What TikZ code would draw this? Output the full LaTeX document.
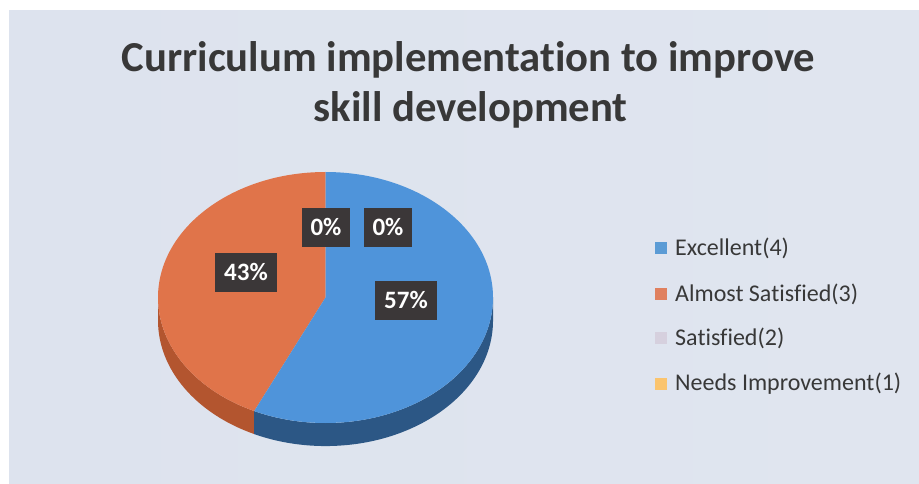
\documentclass[tikz,border=0pt]{standalone}
\usepackage{fontspec}
\setmainfont[Ligatures={NoCommon}]{Carlito}
\definecolor{panelL}{HTML}{DDE3EE}
\definecolor{panelM}{HTML}{F4F5F9}
\definecolor{panelR}{HTML}{E0E5EF}
\definecolor{blueTop}{HTML}{4F94DA}
\definecolor{blueSide}{HTML}{2C5785}
\definecolor{orTop}{HTML}{E0744A}
\definecolor{orSide}{HTML}{B3552F}
\definecolor{lblFill}{HTML}{3B3738}
\definecolor{txtDark}{HTML}{383838}
\definecolor{legBlue}{HTML}{5B9BD5}
\definecolor{legOr}{HTML}{E0805F}
\definecolor{legGray}{HTML}{D6D0DE}
\definecolor{legYel}{HTML}{FBC46E}
\tikzset{
  pct/.style={fill=lblFill, text=white, font=\fontsize{25}{30}\selectfont\bfseries, minimum height=39pt, inner xsep=9pt, inner ysep=0pt},
  legsq/.style={minimum size=12pt, inner sep=0pt},
  legtxt/.style={anchor=west, text=txtDark, font=\fontsize{24}{28}\selectfont, inner sep=0pt},
  ttl/.style={anchor=base, text=txtDark, font=\fontsize{42.7}{50}\selectfont\bfseries, inner sep=0pt}
}
\begin{document}
\begin{tikzpicture}[x=1pt,y=1pt]
\useasboundingbox (0,0) rectangle (919,483);
\fill[white] (0,0) rectangle (919,483);
\shade[left color=panelL, middle color=panelM, right color=panelR] (9,0) rectangle (919,472);
% title
\node[ttl] (t1) at (468.5,411) {Curriculum implementation to improve};
\node[ttl] (t2) at (470.5,361) {skill development};
% pie sides
\fill[orSide] (158,185.5) arc[start angle=180,end angle=244.8,x radius=167.5pt,y radius=125.5pt]
  -- ++(0,-23) arc[start angle=244.8,end angle=180,x radius=167.5pt,y radius=125.5pt] -- cycle;
\fill[blueSide] (254.2,71.9) arc[start angle=244.8,end angle=360,x radius=167.5pt,y radius=125.5pt]
  -- ++(0,-23) arc[start angle=360,end angle=244.8,x radius=167.5pt,y radius=125.5pt] -- cycle;
% pie top
\fill[orTop] (325.5,185.5) -- (325.5,311) arc[start angle=90,end angle=244.8,x radius=167.5pt,y radius=125.5pt] -- cycle;
\fill[blueTop] (325.5,185.5) -- (325.5,311) arc[start angle=90,end angle=-115.2,x radius=167.5pt,y radius=125.5pt] -- cycle;
% labels
\node[pct] (p1) at (326,256) {0\%};
\node[pct] (p2) at (388,256) {0\%};
\node[pct] (p3) at (246,211) {43\%};
\node[pct] (p4) at (406,183) {57\%};
% legend
\node[legsq, fill=legBlue] (s1) at (661,235) {};
\node[legtxt] (l1) at (675,235) {Excellent(4)};
\node[legsq, fill=legOr] (s2) at (661,189) {};
\node[legtxt] (l2) at (675,189) {Almost Satisfied(3)};
\node[legsq, fill=legGray] (s3) at (661,145) {};
\node[legtxt] (l3) at (675,145) {Satisfied(2)};
\node[legsq, fill=legYel] (s4) at (661,99) {};
\node[legtxt] (l4) at (675,99) {Needs Improvement(1)};
\end{tikzpicture}
\end{document}
